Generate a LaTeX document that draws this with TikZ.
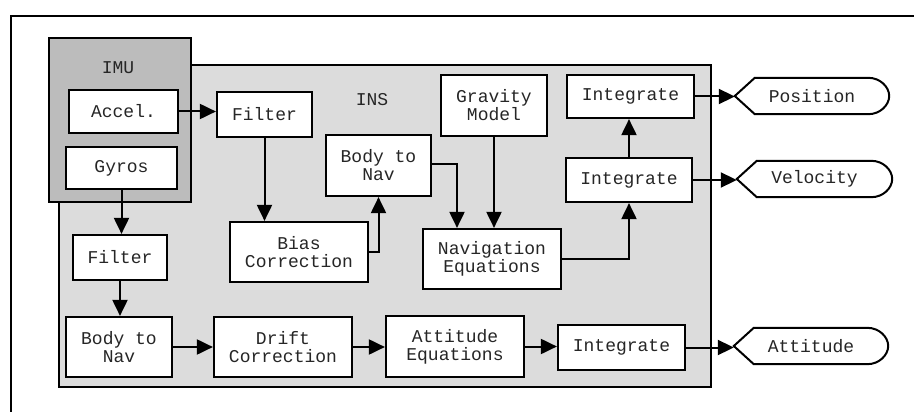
\documentclass[tikz,border=0pt]{standalone}
\usepackage{fontspec}
\setmonofont{Liberation Mono}
\usetikzlibrary{arrows.meta,calc}
\definecolor{imufill}{HTML}{BCBCBC}
\definecolor{insfill}{HTML}{DCDCDC}
\definecolor{ink}{HTML}{262626}
% output terminal: pointed on the left, rounded on the right
\newcommand\dispshape[1]{%
  \draw[line width=2pt]
    (#1.west) -- ([xshift=20pt]#1.north west) -- ([xshift=-21pt]#1.north east)
    .. controls ([xshift=-9pt]#1.north east) and ([yshift=9pt]#1.east) .. (#1.east)
    .. controls ([yshift=-9pt]#1.east) and ([xshift=-9pt]#1.south east) .. ([xshift=-21pt]#1.south east)
    -- ([xshift=20pt]#1.south west) -- cycle;}
\begin{document}
\begin{tikzpicture}[x=1pt,y=-1pt,
  every node/.style={font=\ttfamily\fontsize{18}{18}\selectfont, text=ink},
  blk/.style={draw=black, line width=2.2pt, fill=white, inner sep=0pt, align=center},
  outbox/.style={inner sep=0pt, minimum width=154pt, minimum height=36pt},
  link/.style={line width=2pt, -{Triangle[length=16pt,width=15pt]}},
  lbl/.style={inner sep=0pt}
]
\useasboundingbox (0,0) rectangle (914,412);
\fill[white] (0,0) rectangle (914,412);
% outer frame
\draw[line width=2.2pt] (11,412) -- (11,16) -- (914,16);

% INS and IMU groups
\draw[line width=2.2pt, fill=insfill] (59,65) rectangle (711,387);
\draw[line width=2.4pt, fill=imufill] (49,38) rectangle (191,202);
\node[lbl] (imulbl) at (118,68) {IMU};
\node[lbl] (inslbl) at (372,100) {INS};

% blocks
\node[blk, minimum width=109pt, minimum height=43pt] (accel) at (123.5,111.5) {Accel.};
\node[blk, minimum width=111pt, minimum height=42pt] (gyros) at (121.5,168) {Gyros};
\node[blk, minimum width=95pt, minimum height=45pt] (filt1) at (264.5,114.5) {Filter};
\node[blk, minimum width=105pt, minimum height=61pt] (b2n1) at (378.5,165.5) {Body to\\Nav};
\node[blk, minimum width=106pt, minimum height=61pt] (grav) at (494,105.5) {Gravity\\Model};
\node[blk, minimum width=127pt, minimum height=43pt] (int1) at (630.5,96.5) {Integrate};
\node[blk, minimum width=126pt, minimum height=44pt] (int2) at (629,180) {Integrate};
\node[blk, minimum width=138pt, minimum height=60pt] (bias) at (299,252) {Bias\\Correction};
\node[blk, minimum width=138pt, minimum height=60pt] (naveq) at (492,259) {Navigation\\Equations};
\node[blk, minimum width=94pt, minimum height=45pt] (filt2) at (120,257.5) {Filter};
\node[blk, minimum width=106pt, minimum height=60pt] (b2n2) at (119,347) {Body to\\Nav};
\node[blk, minimum width=138pt, minimum height=60pt] (drift) at (283,347) {Drift\\Correction};
\node[blk, minimum width=138pt, minimum height=61pt] (atteq) at (455,346.5) {Attitude\\Equations};
\node[blk, minimum width=127pt, minimum height=45pt] (int3) at (621.5,347.5) {Integrate};

% outputs
\node[outbox] (pos) at (812,96) {Position};
\node[outbox, minimum width=155pt] (vel) at (814.5,179) {Velocity};
\node[outbox] (att) at (811,346) {Attitude};
\dispshape{pos}
\dispshape{vel}
\dispshape{att}

% connectors
\draw[link] (accel.east) -- (accel.east -| filt1.west);
\draw[link] (filt1.south) -- (filt1.south |- bias.north);
\draw[link] (bias.east) -| (b2n1.south);
\draw[link] ([yshift=1.5pt]b2n1.east) -| ([xshift=-35pt]naveq.north);
\draw[link] (grav.south) -- (grav.south |- naveq.north);
\draw[link] (naveq.east) -| (int2.south);
\draw[link] (int2.north) -- (int2.north |- int1.south);
\draw[link] (int1.east) -- (int1.east -| pos.west);
\draw[link] (int2.east) -- (int2.east -| vel.west);
\draw[link] (gyros.south) -- (gyros.south |- filt2.north);
\draw[link] (filt2.south) -- (filt2.south |- b2n2.north);
\draw[link] (b2n2.east) -- (b2n2.east -| drift.west);
\draw[link] (drift.east) -- (drift.east -| atteq.west);
\draw[link] (atteq.east) -- (atteq.east -| int3.west);
\draw[link] (int3.east) -- (int3.east -| att.west);
\end{tikzpicture}
\end{document}
